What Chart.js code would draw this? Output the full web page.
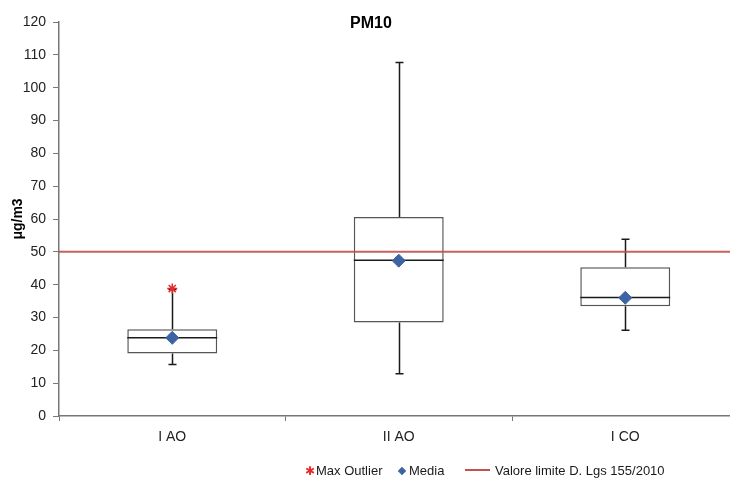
<!DOCTYPE html>
<html>
<head>
<meta charset="utf-8">
<script src="https://cdn.jsdelivr.net/npm/chart.js@4.4.1/dist/chart.umd.min.js"></script>
<style>
  html, body { margin: 0; padding: 0; background: #fff; }
  #wrap { position: relative; width: 730px; height: 480px; overflow: hidden; }
  #legend { position: absolute; top: 463px; left: 0; width: 730px; height: 18px;
    font-family: "Liberation Sans", Arial, sans-serif; font-size: 13px; color: #1a1a1a; }
  #legend span.item { position: absolute; top: 0; white-space: nowrap; line-height: 16px; }
  .star { color: #e8282b; font-size: 12px; margin-right: 1px; }
  .dia { display: inline-block; width: 6px; height: 6px; background: #3e63a3;
    transform: rotate(45deg); margin-right: 4px; vertical-align: 1px; }
  .lim { display: inline-block; width: 25px; height: 2px; background: #c4514e;
    vertical-align: 4px; margin-right: 5px; }
</style>
</head>
<body>
<div id="wrap">
  <canvas id="chart" width="746" height="480"></canvas>
  <div id="legend">
    <span class="item" style="left:305px"><span class="star">&#10033;</span>Max Outlier</span>
    <span class="item" style="left:399px"><span class="dia"></span>Media</span>
    <span class="item" style="left:465px"><span class="lim"></span>Valore limite D. Lgs 155/2010</span>
  </div>
</div>
<script>
// --- dati ---
const categories = ['I AO', 'II AO', 'I CO'];
const minValues = [15.7, 12.9, 26.1];
const q1Values = [19.0, 28.5, 33.4];
const medianValues = [23.8, 47.4, 36.1];
const q3Values = [26.4, 60.6, 45.3];
const maxValues = [38.5, 107.7, 53.8];
const meanValues = [23.8, 47.3, 36.0];
const outlierValues = [38.8, null, null];
const limitValue = 50;
const yTicks = [0, 10, 20, 30, 40, 50, 60, 70, 80, 90, 100, 110, 120];

const BOX = 2; // indice dataset box

// baffi, mediana e linea limite disegnati con le scale del grafico
const boxPlugin = {
  id: 'boxExtras',
  afterDatasetDraw(chart, args) {
    if (args.index !== BOX) return;
    const ctx = chart.ctx;
    const y = chart.scales.y;
    const area = chart.chartArea;
    const meta = chart.getDatasetMeta(BOX);
    ctx.save();
    meta.data.forEach((bar, i) => {
      const cx = Math.round(bar.x) + 0.5;
      const half = bar.width / 2;
      ctx.strokeStyle = '#1a1a1a';
      ctx.lineWidth = 1.5;
      ctx.beginPath();
      // baffo superiore
      ctx.moveTo(cx, y.getPixelForValue(q3Values[i]));
      ctx.lineTo(cx, y.getPixelForValue(maxValues[i]));
      ctx.moveTo(cx - 4, y.getPixelForValue(maxValues[i]));
      ctx.lineTo(cx + 4, y.getPixelForValue(maxValues[i]));
      // baffo inferiore
      ctx.moveTo(cx, y.getPixelForValue(q1Values[i]));
      ctx.lineTo(cx, y.getPixelForValue(minValues[i]));
      ctx.moveTo(cx - 4, y.getPixelForValue(minValues[i]));
      ctx.lineTo(cx + 4, y.getPixelForValue(minValues[i]));
      ctx.stroke();
      // mediana
      ctx.beginPath();
      ctx.moveTo(bar.x - half, y.getPixelForValue(medianValues[i]));
      ctx.lineTo(bar.x + half, y.getPixelForValue(medianValues[i]));
      ctx.stroke();
    });
    // valore limite
    const ly = y.getPixelForValue(limitValue);
    ctx.strokeStyle = 'rgba(192,80,77,0.9)';
    ctx.lineWidth = 2;
    ctx.beginPath();
    ctx.moveTo(area.left, ly);
    ctx.lineTo(area.right, ly);
    ctx.stroke();
    ctx.restore();
  },
  afterDraw(chart) {
    const ctx = chart.ctx;
    ctx.save();
    ctx.font = 'bold 16px "Liberation Sans", Arial, sans-serif';
    ctx.fillStyle = '#000';
    ctx.textAlign = 'center';
    ctx.textBaseline = 'middle';
    ctx.fillText('PM10', 371, 24);
    ctx.restore();
  }
};

Chart.defaults.font.family = '"Liberation Sans", Arial, sans-serif';
Chart.defaults.color = '#222';

new Chart(document.getElementById('chart'), {
  type: 'bar',
  data: {
    labels: categories,
    datasets: [
      {
        type: 'line', label: 'Max Outlier', data: outlierValues, showLine: false,
        pointStyle: 'star', pointRadius: 5, borderColor: '#e8282b', backgroundColor: '#e8282b',
        borderWidth: 1.5
      },
      {
        type: 'line', label: 'Media', data: meanValues, showLine: false,
        pointStyle: 'rectRot', pointRadius: 6.5, borderColor: '#3e63a3', backgroundColor: '#3e63a3',
        borderWidth: 1
      },
      {
        label: 'box', data: q1Values.map((v, i) => [v, q3Values[i]]),
        backgroundColor: '#fff', borderColor: '#555', borderWidth: 1.5, borderSkipped: false,
        categoryPercentage: 1, barPercentage: 0.397
      }
    ]
  },
  options: {
    responsive: false,
    devicePixelRatio: 1,
    animation: false,
    layout: { padding: { top: 22, right: 1.5, bottom: 0, left: 0 } },
    plugins: { legend: { display: false }, tooltip: { enabled: false }, title: { display: false } },
    scales: {
      x: {
        grid: { offset: true, drawOnChartArea: false, drawTicks: true, tickLength: 5, color: '#777' },
        border: { color: '#777', width: 1.5 },
        ticks: { font: { size: 14 }, padding: 8, color: '#222' },
        afterFit(s) { s.height = 64; }
      },
      y: {
        min: 0, max: 120,
        afterBuildTicks(s) { s.ticks = yTicks.map(v => ({ value: v })); },
        grid: { drawOnChartArea: false, drawTicks: true, tickLength: 6, color: '#777' },
        border: { color: '#777', width: 1.5 },
        ticks: { font: { size: 14 }, padding: 7, color: '#222' },
        title: { display: true, text: 'μg/m3', font: { size: 14, weight: 'bold' }, color: '#000',
          padding: { top: 10, bottom: 0 } },
        afterFit(s) { s.width = 59; }
      }
    }
  },
  plugins: [boxPlugin]
});
</script>
</body>
</html>
